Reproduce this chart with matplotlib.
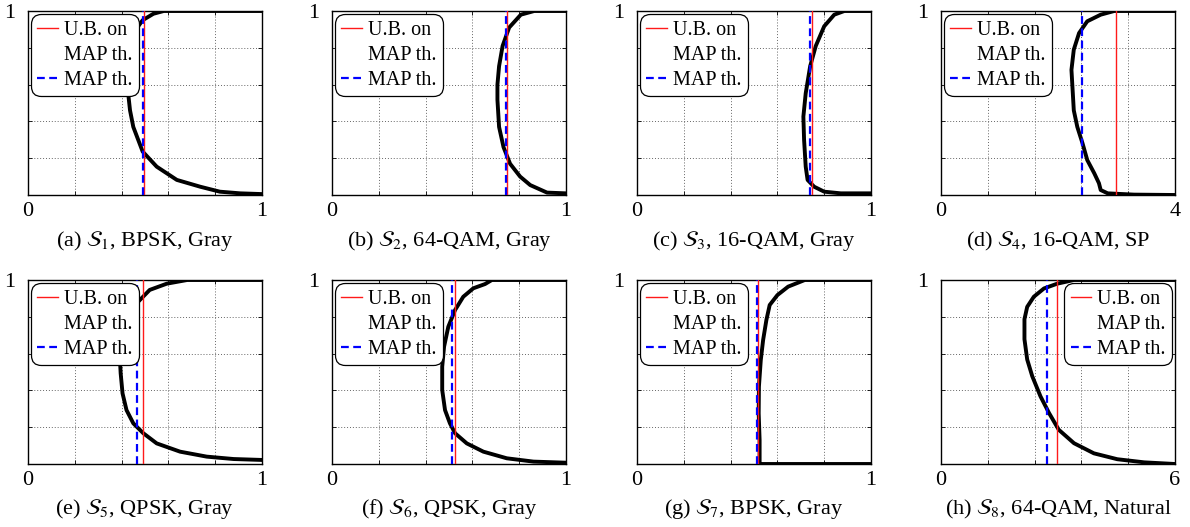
import matplotlib
matplotlib.use("Agg")
import matplotlib.pyplot as plt
from matplotlib.lines import Line2D

plt.rcParams['font.family'] = ['Liberation Serif', 'DejaVu Serif']
plt.rcParams['mathtext.fontset'] = 'stix'

# ---------------- data ----------------
captions = [r"(a) $\mathcal{S}_1$, BPSK, Gray",
            r"(b) $\mathcal{S}_2$, 64-QAM, Gray",
            r"(c) $\mathcal{S}_3$, 16-QAM, Gray",
            r"(d) $\mathcal{S}_4$, 16-QAM, SP",
            r"(e) $\mathcal{S}_5$, QPSK, Gray",
            r"(f) $\mathcal{S}_6$, QPSK, Gray",
            r"(g) $\mathcal{S}_7$, BPSK, Gray",
            r"(h) $\mathcal{S}_8$, 64-QAM, Natural"]
x_max = [1, 1, 1, 4, 1, 1, 1, 6]
x_max_labels = ["1", "1", "1", "4", "1", "1", "1", "6"]

ub_map_th = [0.497, 0.747, 0.746, 2.99, 0.493, 0.524, 0.517, 2.98]
map_th = [0.490, 0.743, 0.741, 2.41, 0.467, 0.513, 0.514, 2.71]

curve_a_x = [1.0, 0.58, 0.536, 0.49, 0.45, 0.436, 0.43, 0.43, 0.436, 0.45, 0.49, 0.55, 0.636, 0.736, 0.82, 0.907, 1.0]
curve_a_y = [1.0, 1.0, 0.985, 0.95, 0.88, 0.79, 0.61, 0.53, 0.46, 0.37, 0.236, 0.154, 0.082, 0.045, 0.018, 0.009, 0.005]

curve_b_x = [1.0, 0.864, 0.807, 0.757, 0.729, 0.714, 0.707, 0.707, 0.714, 0.733, 0.761, 0.804, 0.847, 0.919, 1.0]
curve_b_y = [1.0, 1.0, 0.98, 0.91, 0.81, 0.70, 0.60, 0.517, 0.37, 0.26, 0.17, 0.10, 0.054, 0.013, 0.009]

curve_c_x = [1.0, 0.886, 0.843, 0.80, 0.764, 0.74, 0.721, 0.711, 0.714, 0.721, 0.729, 0.757, 0.80, 0.871, 1.0]
curve_c_y = [1.0, 1.0, 0.98, 0.917, 0.81, 0.70, 0.553, 0.426, 0.30, 0.154, 0.082, 0.045, 0.018, 0.009, 0.009]

curve_d_x = [4.0, 2.96, 2.73, 2.50, 2.36, 2.27, 2.23, 2.25, 2.27, 2.33, 2.42, 2.50, 2.62, 2.70, 2.73, 2.85, 3.30, 4.0]
curve_d_y = [1.0, 1.0, 0.98, 0.944, 0.88, 0.79, 0.68, 0.57, 0.46, 0.37, 0.28, 0.19, 0.118, 0.064, 0.027, 0.009, 0.002, 0.0]

curve_e_x = [1.0, 0.68, 0.593, 0.52, 0.464, 0.43, 0.407, 0.393, 0.396, 0.404, 0.421, 0.45, 0.493, 0.55, 0.65, 0.764, 0.879, 1.0]
curve_e_y = [1.0, 1.0, 0.98, 0.946, 0.873, 0.80, 0.71, 0.565, 0.493, 0.384, 0.293, 0.221, 0.167, 0.112, 0.067, 0.04, 0.027, 0.022]

curve_f_x = [1.0, 0.683, 0.654, 0.604, 0.561, 0.526, 0.497, 0.479, 0.471, 0.471, 0.483, 0.504, 0.526, 0.576, 0.647, 0.747, 0.861, 1.0]
curve_f_y = [1.0, 1.0, 0.978, 0.955, 0.909, 0.837, 0.746, 0.638, 0.529, 0.402, 0.293, 0.221, 0.167, 0.112, 0.067, 0.031, 0.013, 0.007]

curve_g_x = [1.0, 0.717, 0.646, 0.60, 0.567, 0.553, 0.539, 0.529, 0.521, 0.52, 0.524, 0.524, 0.524, 1.0]
curve_g_y = [1.0, 1.0, 0.964, 0.918, 0.864, 0.783, 0.674, 0.565, 0.42, 0.275, 0.13, 0.007, 0.0, 0.0]

curve_h_x = [6.0, 3.41, 2.98, 2.64, 2.38, 2.21, 2.14, 2.14, 2.21, 2.34, 2.55, 2.77, 3.02, 3.41, 3.92, 4.52, 5.21, 6.0]
curve_h_y = [1.0, 1.0, 0.98, 0.954, 0.909, 0.854, 0.787, 0.678, 0.568, 0.477, 0.368, 0.277, 0.186, 0.113, 0.058, 0.026, 0.009, 0.0]

curves_x = [curve_a_x, curve_b_x, curve_c_x, curve_d_x, curve_e_x, curve_f_x, curve_g_x, curve_h_x]
curves_y = [curve_a_y, curve_b_y, curve_c_y, curve_d_y, curve_e_y, curve_f_y, curve_g_y, curve_h_y]
legend_loc = ['upper left'] * 7 + ['upper right']

# ---------------- layout ----------------
W, H = 1190, 527
fig = plt.figure(figsize=(W / 100, H / 100), dpi=100)
col_left = [28, 332, 637, 941]
row_top = [11, 280]
ax_w, ax_h = 234, 184
cap_baseline = [246, 514]
RED = '#ff1a1a'
BLUE = '#0000ff'
DASH = (0, (3.5, 2.0))

for i in range(8):
    r, c = divmod(i, 4)
    left = col_left[c] / W
    bottom = 1 - (row_top[r] + ax_h) / H
    ax = fig.add_axes([left, bottom, ax_w / W, ax_h / H])
    xm = x_max[i]
    ax.set_xlim(0, xm)
    ax.set_ylim(0, 1)
    xt = [xm * k / 5 for k in range(6)]
    yt = [k / 5 for k in range(6)]
    ax.set_xticks(xt)
    ax.set_xticklabels(["0", "", "", "", "", x_max_labels[i]])
    ax.set_yticks(yt)
    ax.set_yticklabels(["", "", "", "", "", "1"])
    ax.tick_params(direction='in', length=3, width=0.6, labelsize=16,
                   top=True, right=True, colors='black')
    ax.tick_params(axis='x', pad=5)
    ax.tick_params(axis='y', pad=9)
    for lab in ax.get_yticklabels():
        lab.set_verticalalignment('center_baseline')
    ax.grid(True, linestyle=(0, (1, 2)), color='#666666', linewidth=0.7)
    ax.set_axisbelow(True)
    for s in ax.spines.values():
        s.set_linewidth(1.0)
        s.set_color('black')

    ax.plot(curves_x[i], curves_y[i], color='black', linewidth=2.8,
            solid_joinstyle='round', solid_capstyle='round', zorder=3)
    ax.axvline(ub_map_th[i], color=RED, linewidth=1.0, zorder=4)
    ax.axvline(map_th[i], color=BLUE, linewidth=1.6, linestyle=DASH, zorder=4)

    handles = [Line2D([], [], color=RED, linewidth=1.0),
               Line2D([], [], color='none'),
               Line2D([], [], color=BLUE, linewidth=1.6, linestyle=DASH)]
    labels = ["U.B. on", "MAP th.", "MAP th."]
    leg = ax.legend(handles, labels, loc=legend_loc[i], fontsize=14.5,
                    fancybox=True, framealpha=1.0, edgecolor='black',
                    handlelength=1.0, handletextpad=0.3, labelspacing=0.3,
                    borderpad=0.32, borderaxespad=0.15)
    leg.get_frame().set_linewidth(0.9)
    leg.get_frame().set_boxstyle('round', pad=0.0, rounding_size=0.5)
    leg.set_zorder(10)

    fig.text((col_left[c] + ax_w / 2) / W, 1 - cap_baseline[r] / H, captions[i],
             ha='center', va='baseline', fontsize=16)

fig.savefig("out.png", dpi=100)
